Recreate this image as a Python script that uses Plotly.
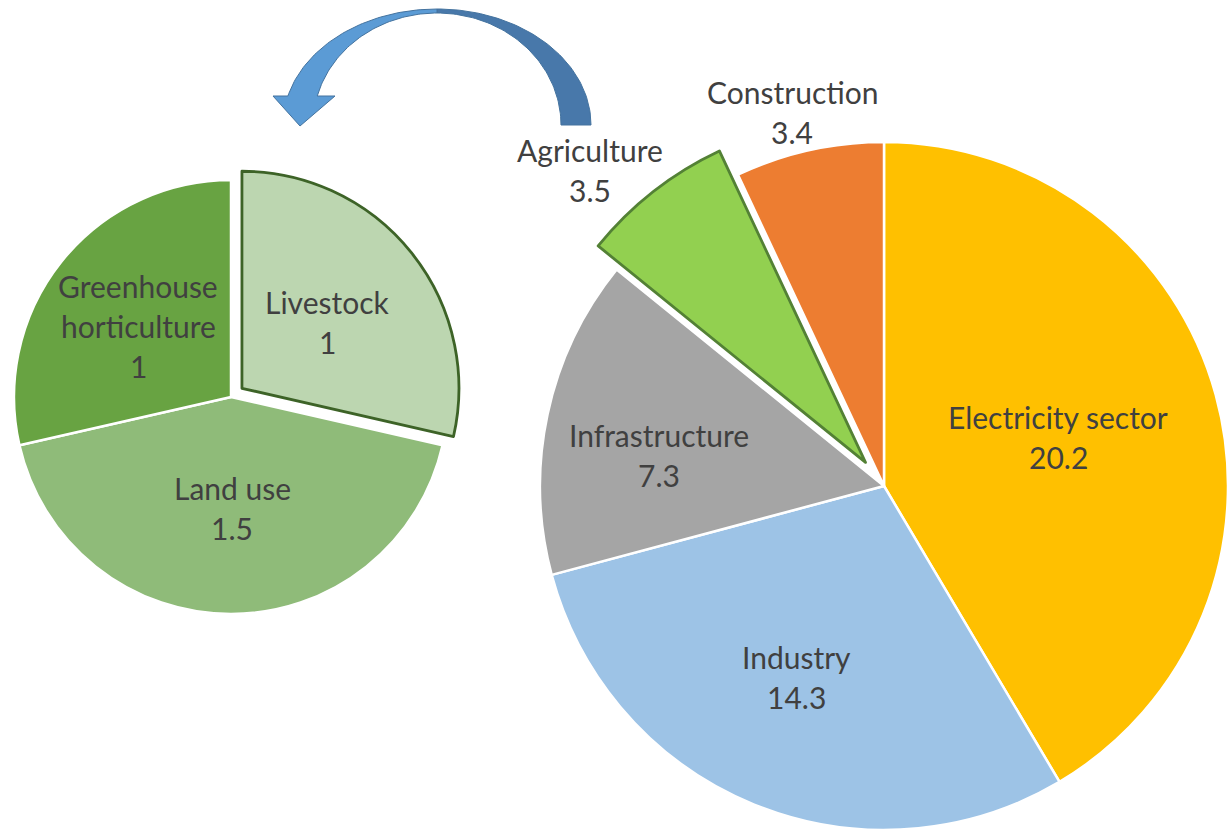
import math
import plotly.graph_objects as go

W, H = 1229, 831

# Emissions by sector (Mt)
sectors = ["Electricity sector", "Industry", "Infrastructure", "Agriculture", "Construction"]
sector_values = [20.2, 14.3, 7.3, 3.5, 3.4]
sector_colors = ["#FFC000", "#9DC3E6", "#A5A5A5", "#92D050", "#ED7D31"]

# Breakdown of agriculture (Mt)
agri_parts = ["Livestock", "Land use", "Greenhouse horticulture"]
agri_values = [1, 1.5, 1]
agri_colors = ["#BCD6B0", "#8FBB79", "#68A342"]

TEXT_COLOR = "#404040"
FONT = "Lato"
FONT_SIZE = 30
LINE_GAP = 40

# Pie geometry in pixels: centre, radius, exploded slice and its pull distance
BIG = dict(cx=884, cy=486, r=344, pulled=3, pull_px=30, edge="#538135")
SMALL = dict(cx=231, cy=397, r=217, pulled=0, pull_px=14, edge="#3D6327")

# Label anchor (pixel centre of text block) for each slice
sector_label_pos = [(1058, 437), (796, 677), (659, 455), (590, 170), (792, 112)]
agri_label_pos = [(327, 322), (232, 508), (138, 326)]
agri_label_lines = [["Livestock"], ["Land use"], ["Greenhouse", "horticulture"]]


def domain(cx, cy, r):
    return dict(x=[(cx - r) / W, (cx + r) / W],
                y=[(H - cy - r) / H, (H - cy + r) / H])


def mid_angle(values, idx):
    total = sum(values)
    start = sum(values[:idx]) / total * 2 * math.pi
    return start + values[idx] / total * math.pi


def add_pie(fig, labels, values, colors, geo, name):
    k = geo["pulled"]
    base_colors = [c if i != k else "rgba(0,0,0,0)" for i, c in enumerate(colors)]
    base_widths = [2.5 if i != k else 0 for i in range(len(values))]
    fig.add_trace(go.Pie(
        labels=labels, values=values, sort=False, direction="clockwise",
        rotation=0, textinfo="none", hoverinfo="label+value", name=name,
        marker=dict(colors=base_colors, line=dict(color="white", width=base_widths)),
        domain=domain(geo["cx"], geo["cy"], geo["r"]), showlegend=False,
    ))
    a = mid_angle(values, k)
    pcx = geo["cx"] + geo["pull_px"] * math.sin(a)
    pcy = geo["cy"] - geo["pull_px"] * math.cos(a)
    pull_colors = [colors[i] if i == k else "rgba(0,0,0,0)" for i in range(len(values))]
    pull_widths = [2.8 if i == k else 0 for i in range(len(values))]
    fig.add_trace(go.Pie(
        labels=labels, values=values, sort=False, direction="clockwise",
        rotation=0, textinfo="none", hoverinfo="skip", name=name + " (detail)",
        marker=dict(colors=pull_colors, line=dict(color=geo["edge"], width=pull_widths)),
        domain=domain(pcx, pcy, geo["r"]), showlegend=False,
    ))


fig = go.Figure()

# Curved arrow from the agriculture slice to its breakdown
acx, acy = 437, 125
o_rx, o_ry = 154, 116
i_rx, i_ry = 124, 112
shaft_y = 96


def arc(rx, ry, t0, t1, n=60):
    pts = []
    for j in range(n + 1):
        t = t0 + (t1 - t0) * j / n
        pts.append((acx + rx * math.cos(t), acy - ry * math.sin(t)))
    return pts


t_out_end = math.pi - math.asin((acy - shaft_y) / o_ry)
t_in_end = math.pi - math.asin((acy - shaft_y) / i_ry)

back = arc(o_rx, o_ry, 0, math.pi / 2) + arc(i_rx, i_ry, math.pi / 2, 0)
head_l, head_r, tip = (273, shaft_y), (335, shaft_y), (300, 126)
front = (arc(o_rx, o_ry, math.pi / 2, t_out_end)
         + [head_l, tip, head_r]
         + arc(i_rx, i_ry, t_in_end, math.pi / 2))

for pts, col in ((back, "#4878AA"), (front, "#5B9BD5")):
    xs = [p[0] for p in pts] + [pts[0][0]]
    ys = [p[1] for p in pts] + [pts[0][1]]
    fig.add_trace(go.Scatter(
        x=xs, y=ys, mode="lines", fill="toself", fillcolor=col,
        line=dict(color="#44739F", width=1), hoverinfo="skip", showlegend=False,
    ))

add_pie(fig, sectors, sector_values, sector_colors, BIG, "Sectors")
add_pie(fig, agri_parts, agri_values, agri_colors, SMALL, "Agriculture")


def fmt(v):
    return f"{v:g}"


def add_label(lines, pos):
    n = len(lines)
    for i, line in enumerate(lines):
        fig.add_annotation(
            x=pos[0], y=pos[1] + (i - (n - 1) / 2) * LINE_GAP,
            xref="x", yref="y", text=line, showarrow=False,
            font=dict(family=FONT, size=FONT_SIZE, color=TEXT_COLOR),
            xanchor="center", yanchor="middle",
        )


for name, val, pos in zip(sectors, sector_values, sector_label_pos):
    add_label([name, fmt(val)], pos)

for lines, val, pos in zip(agri_label_lines, agri_values, agri_label_pos):
    add_label(lines + [fmt(val)], pos)

fig.update_layout(
    width=W, height=H,
    margin=dict(l=0, r=0, t=0, b=0),
    paper_bgcolor="white", plot_bgcolor="white",
    xaxis=dict(range=[0, W], visible=False, domain=[0, 1], fixedrange=True),
    yaxis=dict(range=[H, 0], visible=False, domain=[0, 1], fixedrange=True),
    showlegend=False,
)

fig.write_html("out.html")
